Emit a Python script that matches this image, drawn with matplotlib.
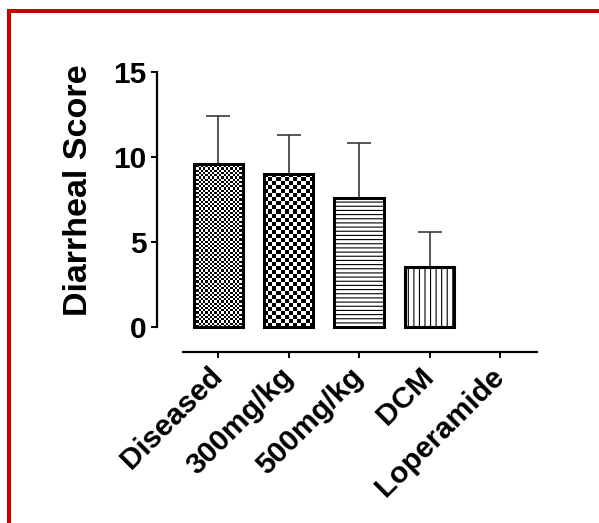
import numpy as np
import matplotlib
matplotlib.use("Agg")
import matplotlib.pyplot as plt
from matplotlib.lines import Line2D

# data
groups = ["Diseased", "300mg/kg", "500mg/kg", "DCM", "Loperamide"]
score = [9.6, 9.0, 7.6, 3.5, 0.0]
score_err = [2.8, 2.3, 3.2, 2.1, 0.0]

# fill style per bar: checker cell size in px, or a hatch string
fills = [("checker", 2.2), ("checker", 4.0), ("hatch", "----"), ("hatch", "|||"), ("none", None)]

plt.rcParams["font.family"] = ["Liberation Sans", "DejaVu Sans"]
plt.rcParams["font.weight"] = "bold"
plt.rcParams["hatch.linewidth"] = 0.8
plt.rcParams["hatch.color"] = "black"

fig = plt.figure(figsize=(5.99, 5.23), dpi=100)
ax = fig.add_axes([157 / 599, 1 - 352 / 523, 380 / 599, (352 - 71.7) / 523])

x = np.arange(len(groups))
vals = np.array(score)
errs = np.array(score_err)
px_per_unit = 17.0
lws = [2.2 if v > 0 else 0 for v in vals]

# error bars (upper only), drawn under the bars
m = vals > 0
ax.errorbar(x[m], vals[m], yerr=[np.zeros(m.sum()), errs[m]], fmt="none",
            ecolor="#3a3a3a", elinewidth=1.2, capsize=8.5, capthick=1.2, zorder=1)

bars = ax.bar(x, vals, width=0.7, color="white", edgecolor="black",
              linewidth=lws, zorder=3)

for bar, (kind, arg) in zip(bars, fills):
    if kind == "hatch":
        bar.set_hatch(arg)
    elif kind == "checker":
        bar.set_facecolor("none")
        x0, w, h = bar.get_x(), bar.get_width(), bar.get_height()
        ncol = int(round(w * 70.45 / arg))
        nrow = int(round(h * px_per_unit / arg))
        cb = (np.add.outer(np.arange(nrow), np.arange(ncol)) % 2).astype(float)
        im = ax.imshow(cb, extent=(x0, x0 + w, 0, h), cmap="gray",
                       interpolation="nearest", aspect="auto", zorder=2)
        im.set_clip_path(bar)

ax.set_xlim(-0.869, 4.524)
ax.set_ylim(-1.47, 15)
ax.set_yticks([0, 5, 10, 15])
ax.set_xticks(x)
ax.set_xticklabels(groups, rotation=45, rotation_mode="anchor", ha="right", va="center")

ax.spines["top"].set_visible(False)
ax.spines["right"].set_visible(False)
ax.spines["left"].set_bounds(0, 15)
ax.spines["bottom"].set_bounds(-0.5, 4.524)
for s in ["left", "bottom"]:
    ax.spines[s].set_linewidth(1.6)
ax.tick_params(axis="y", length=4.5, width=1.4, pad=3, labelsize=21.5)
ax.tick_params(axis="x", length=4.5, width=1.4, pad=10, labelsize=21.5)
for lab in ax.get_xticklabels() + ax.get_yticklabels():
    lab.set_fontweight("bold")

ax.set_ylabel("Diarrheal Score", fontsize=24.5, fontweight="bold")
ax.yaxis.set_label_coords(-0.167, 0.577)

# red frame lines on top and left of the figure
red = "#c80000"
fig.add_artist(Line2D([7.3 / 599, 1], [1 - 11.3 / 523] * 2, transform=fig.transFigure,
                      color=red, lw=2.9, solid_capstyle="butt"))
fig.add_artist(Line2D([9.3 / 599] * 2, [1 - 9.3 / 523, 0], transform=fig.transFigure,
                      color=red, lw=2.9, solid_capstyle="butt"))

fig.savefig("out.png", dpi=100)
